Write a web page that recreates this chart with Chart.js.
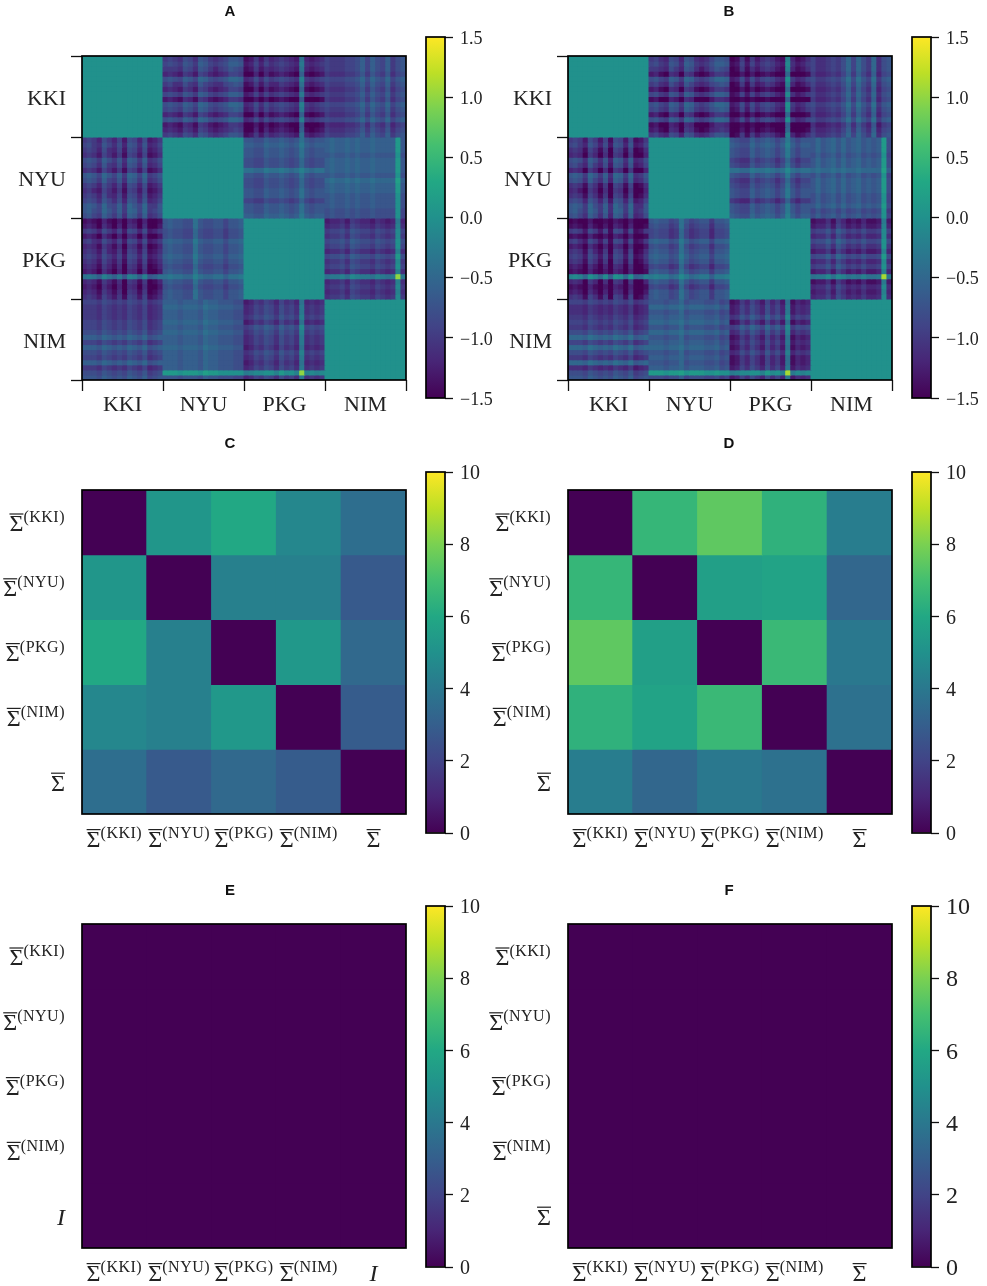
<!DOCTYPE html>
<html>
<head>
<meta charset="utf-8">
<title>Heatmaps</title>
<script src="https://cdn.jsdelivr.net/npm/chart.js@4/dist/chart.umd.js"></script>
<style>
html, body { margin: 0; padding: 0; background: #fff; }
#page { position: relative; width: 987px; height: 1286px; overflow: hidden; }
canvas { position: absolute; }
</style>
</head>
<body>
<div id="page"></div>
<script>
const sites = ['KKI', 'NYU', 'PKG', 'NIM'];
const supLabels = ['(KKI)', '(NYU)', '(PKG)', '(NIM)', ''];

// panels C-F
const matrixC = [
	[0, 5.2, 6.0, 4.6, 3.6],
	[5.2, 0, 4.3, 4.3, 2.8],
	[6.0, 4.3, 0, 5.3, 3.4],
	[4.6, 4.3, 5.3, 0, 2.9],
	[3.6, 2.8, 3.4, 2.9, 0]
];
const matrixD = [
	[0, 6.6, 7.5, 6.4, 4.2],
	[6.6, 0, 5.6, 5.8, 3.3],
	[7.5, 5.6, 0, 6.7, 4.0],
	[6.4, 5.8, 6.7, 0, 3.7],
	[4.2, 3.3, 4.0, 3.7, 0]
];
const matrixE = [
	[0, 0, 0, 0, 0],
	[0, 0, 0, 0, 0],
	[0, 0, 0, 0, 0],
	[0, 0, 0, 0, 0],
	[0, 0, 0, 0, 0]
];
const matrixF = [
	[0, 0, 0, 0, 0],
	[0, 0, 0, 0, 0],
	[0, 0, 0, 0, 0],
	[0, 0, 0, 0, 0],
	[0, 0, 0, 0, 0]
];

// panels A and B, tenths of a unit, coarse read of each off-diagonal block
const aKkiNyu = [
	[-10,-9,-10,-11,-8,-9,-11,-7,-8,-10,-11,-10,-9,-7,-7,-8],
	[-9,-8,-9,-10,-7,-8,-10,-6,-7,-9,-10,-9,-8,-6,-6,-7],
	[-10,-10,-10,-11,-8,-9,-11,-7,-8,-10,-12,-10,-9,-7,-8,-9],
	[-12,-11,-12,-13,-10,-11,-13,-9,-10,-12,-13,-12,-11,-9,-9,-10],
	[-8,-7,-8,-9,-6,-7,-9,-5,-6,-8,-9,-8,-7,-5,-5,-6],
	[-10,-9,-11,-11,-8,-10,-11,-7,-9,-10,-11,-11,-9,-8,-7,-8],
	[-12,-11,-12,-13,-10,-11,-13,-9,-10,-12,-13,-12,-11,-9,-9,-10],
	[-9,-8,-9,-10,-7,-8,-10,-6,-7,-9,-10,-9,-8,-6,-6,-7],
	[-13,-12,-13,-14,-11,-12,-14,-10,-11,-13,-14,-13,-12,-10,-10,-11],
	[-8,-7,-8,-9,-6,-7,-9,-5,-6,-8,-9,-8,-7,-5,-5,-6],
	[-9,-8,-9,-10,-7,-8,-10,-6,-7,-9,-10,-9,-8,-7,-6,-7],
	[-12,-11,-12,-13,-10,-11,-13,-9,-10,-12,-13,-12,-11,-9,-9,-10],
	[-8,-7,-8,-9,-6,-7,-9,-5,-6,-8,-9,-8,-7,-5,-5,-6],
	[-13,-12,-13,-14,-11,-12,-14,-10,-11,-13,-14,-13,-12,-10,-10,-11],
	[-12,-11,-12,-13,-10,-11,-13,-9,-10,-12,-13,-12,-11,-10,-9,-10],
	[-10,-9,-10,-11,-8,-9,-11,-7,-8,-10,-11,-10,-9,-7,-7,-8]
];
const aKkiPkg = [
	[-14,-13,-10,-13,-10,-12,-11,-10,-11,-12,-13,-4,-12,-13,-12,-11],
	[-13,-12,-9,-12,-9,-11,-10,-9,-10,-11,-12,-3,-11,-12,-11,-10],
	[-14,-13,-10,-13,-11,-12,-11,-10,-11,-12,-13,-4,-12,-13,-12,-11],
	[-15,-15,-12,-15,-12,-14,-13,-12,-13,-14,-15,-6,-14,-15,-14,-13],
	[-12,-11,-8,-11,-8,-10,-9,-8,-9,-10,-11,-2,-10,-11,-10,-9],
	[-14,-13,-10,-13,-10,-12,-12,-10,-11,-12,-13,-4,-12,-13,-12,-11],
	[-15,-15,-12,-15,-12,-14,-13,-12,-13,-14,-15,-6,-14,-15,-14,-13],
	[-13,-12,-9,-12,-9,-11,-10,-9,-10,-11,-12,-3,-11,-12,-11,-10],
	[-15,-15,-13,-15,-13,-15,-14,-13,-14,-15,-15,-7,-15,-15,-15,-14],
	[-12,-11,-8,-11,-8,-10,-9,-8,-9,-10,-11,-2,-10,-11,-10,-9],
	[-13,-12,-9,-12,-9,-11,-10,-9,-10,-11,-12,-3,-11,-12,-11,-10],
	[-15,-15,-12,-15,-12,-14,-13,-12,-13,-14,-15,-6,-14,-15,-14,-13],
	[-12,-11,-8,-11,-8,-10,-9,-8,-9,-10,-11,-2,-10,-11,-10,-9],
	[-15,-15,-13,-15,-13,-15,-14,-13,-14,-15,-15,-7,-15,-15,-15,-14],
	[-15,-15,-12,-15,-12,-14,-13,-12,-13,-14,-15,-6,-14,-15,-14,-13],
	[-14,-13,-10,-13,-10,-12,-11,-10,-11,-12,-13,-4,-12,-13,-12,-11]
];
const aKkiNim = [
	[-9,-10,-10,-10,-9,-9,-8,-6,-9,-6,-8,-9,-6,-10,-8,-7],
	[-9,-10,-10,-10,-9,-9,-8,-6,-9,-6,-8,-9,-6,-10,-8,-7],
	[-9,-10,-10,-10,-9,-9,-8,-6,-9,-6,-8,-9,-6,-10,-8,-7],
	[-10,-11,-11,-11,-10,-10,-9,-7,-10,-7,-9,-10,-7,-11,-9,-8],
	[-8,-9,-9,-9,-8,-8,-7,-5,-8,-5,-7,-8,-5,-9,-7,-6],
	[-9,-10,-10,-10,-9,-9,-8,-6,-9,-6,-8,-9,-6,-10,-8,-7],
	[-10,-11,-11,-11,-10,-10,-9,-7,-10,-7,-9,-10,-7,-11,-9,-8],
	[-9,-10,-10,-10,-9,-9,-8,-6,-9,-6,-8,-9,-6,-10,-8,-7],
	[-10,-11,-11,-11,-10,-10,-9,-7,-10,-7,-9,-10,-7,-11,-9,-8],
	[-8,-9,-9,-9,-8,-8,-7,-5,-8,-5,-7,-8,-5,-9,-7,-6],
	[-9,-10,-10,-10,-9,-9,-8,-6,-9,-6,-8,-9,-6,-10,-8,-7],
	[-10,-11,-11,-11,-10,-10,-9,-7,-10,-7,-9,-10,-7,-11,-9,-8],
	[-8,-9,-9,-9,-8,-8,-7,-5,-8,-5,-7,-8,-5,-9,-7,-6],
	[-11,-12,-12,-12,-11,-11,-10,-8,-11,-8,-10,-11,-8,-12,-10,-9],
	[-10,-11,-11,-11,-10,-10,-9,-7,-10,-7,-9,-10,-7,-11,-9,-8],
	[-9,-10,-10,-10,-9,-9,-8,-6,-9,-6,-8,-9,-6,-10,-8,-7]
];
const aNyuPkg = [
	[-7,-7,-8,-8,-6,-7,-7,-6,-7,-8,-7,-4,-7,-8,-7,-7],
	[-6,-6,-7,-7,-5,-6,-6,-5,-6,-7,-6,-3,-6,-7,-6,-6],
	[-7,-7,-8,-8,-6,-7,-7,-6,-7,-8,-7,-4,-7,-8,-7,-7],
	[-7,-7,-8,-8,-6,-7,-7,-6,-7,-8,-7,-4,-7,-8,-7,-7],
	[-8,-8,-9,-9,-7,-8,-8,-7,-8,-9,-8,-5,-8,-9,-8,-8],
	[-8,-8,-9,-9,-7,-8,-8,-7,-8,-9,-8,-5,-8,-9,-8,-8],
	[-4,-4,-5,-5,-3,-4,-4,-3,-4,-5,-4,-2,-4,-5,-4,-4],
	[-7,-7,-8,-8,-6,-7,-7,-6,-7,-8,-7,-4,-7,-8,-7,-7],
	[-8,-8,-9,-9,-7,-8,-8,-7,-8,-9,-8,-5,-8,-9,-8,-8],
	[-8,-8,-9,-9,-7,-8,-8,-7,-8,-9,-8,-5,-8,-9,-8,-8],
	[-7,-7,-8,-8,-6,-7,-7,-6,-7,-8,-7,-4,-7,-8,-7,-7],
	[-7,-7,-8,-8,-6,-7,-7,-6,-7,-8,-7,-4,-7,-8,-7,-7],
	[-9,-9,-10,-10,-8,-9,-9,-8,-9,-10,-9,-6,-9,-10,-9,-9],
	[-7,-7,-8,-8,-6,-7,-7,-6,-7,-8,-7,-4,-7,-8,-7,-7],
	[-7,-7,-8,-8,-6,-7,-7,-6,-7,-8,-7,-4,-7,-8,-7,-7],
	[-6,-6,-7,-7,-5,-6,-6,-5,-6,-7,-6,-3,-6,-7,-6,-6]
];
const aNyuNim = [
	[-6,-5,-6,-6,-5,-6,-5,-6,-6,-5,-6,-6,-6,-6,1,-7],
	[-6,-5,-6,-6,-5,-6,-5,-6,-6,-5,-6,-6,-6,-6,1,-7],
	[-6,-5,-6,-6,-5,-6,-5,-6,-6,-5,-6,-6,-6,-6,1,-7],
	[-7,-6,-7,-7,-6,-7,-6,-7,-7,-6,-7,-7,-7,-7,0,-8],
	[-6,-5,-6,-6,-5,-6,-5,-6,-6,-5,-6,-6,-6,-6,1,-7],
	[-6,-5,-6,-6,-5,-6,-5,-6,-6,-5,-6,-6,-6,-6,1,-7],
	[-6,-5,-6,-6,-5,-6,-5,-6,-6,-5,-6,-6,-6,-6,1,-7],
	[-7,-6,-7,-7,-6,-7,-6,-7,-7,-6,-7,-7,-7,-7,0,-8],
	[-5,-4,-5,-5,-4,-5,-4,-5,-5,-4,-5,-5,-5,-5,2,-6],
	[-6,-5,-6,-6,-5,-6,-5,-6,-6,-5,-6,-6,-6,-6,1,-7],
	[-6,-5,-6,-6,-5,-6,-5,-6,-6,-5,-6,-6,-6,-6,1,-7],
	[-7,-6,-7,-7,-6,-7,-6,-7,-7,-6,-7,-7,-7,-7,0,-8],
	[-7,-6,-7,-7,-6,-7,-6,-7,-7,-6,-7,-7,-7,-7,0,-8],
	[-7,-6,-7,-7,-6,-7,-6,-7,-7,-6,-7,-7,-7,-7,0,-8],
	[-8,-7,-8,-8,-7,-8,-7,-8,-8,-7,-8,-8,-8,-8,0,-9],
	[-8,-7,-8,-8,-7,-8,-7,-8,-8,-7,-8,-8,-8,-8,0,-9]
];
const aPkgNim = [
	[-13,-12,-12,-11,-13,-10,-11,-12,-12,-13,-11,-12,-13,-12,-3,-12],
	[-12,-11,-11,-10,-12,-9,-10,-11,-11,-12,-10,-11,-12,-11,-2,-11],
	[-10,-9,-9,-8,-10,-7,-8,-9,-9,-10,-8,-9,-10,-9,-1,-9],
	[-11,-10,-10,-9,-11,-8,-9,-10,-10,-11,-9,-10,-11,-10,-1,-10],
	[-9,-8,-8,-7,-9,-6,-7,-8,-8,-9,-7,-8,-9,-8,0,-8],
	[-10,-9,-9,-8,-10,-7,-8,-9,-9,-10,-8,-9,-10,-9,0,-9],
	[-12,-11,-11,-10,-12,-9,-10,-11,-11,-12,-10,-11,-12,-11,-2,-11],
	[-9,-8,-8,-7,-9,-6,-7,-8,-8,-9,-7,-8,-9,-8,1,-8],
	[-11,-10,-10,-9,-11,-8,-9,-10,-10,-11,-9,-10,-11,-10,-1,-10],
	[-10,-9,-9,-8,-10,-7,-8,-9,-9,-10,-8,-9,-10,-9,0,-9],
	[-12,-11,-11,-10,-12,-9,-10,-11,-11,-12,-10,-11,-12,-11,-2,-11],
	[-4,-3,-3,-2,-4,-1,-2,-3,-3,-4,-2,-3,-4,-3,10,-3],
	[-12,-11,-11,-10,-12,-9,-10,-11,-11,-12,-10,-11,-12,-11,-2,-11],
	[-11,-10,-10,-9,-11,-8,-9,-10,-10,-11,-9,-10,-11,-10,-1,-10],
	[-12,-11,-11,-10,-12,-9,-10,-11,-11,-12,-10,-11,-12,-11,-2,-11],
	[-11,-10,-10,-9,-11,-8,-9,-10,-10,-11,-9,-10,-11,-10,-1,-10]
];

const bKkiNyu = [
	[-10,-9,-11,-12,-8,-9,-12,-7,-8,-11,-12,-11,-9,-7,-7,-8],
	[-9,-8,-10,-11,-7,-8,-11,-6,-7,-10,-11,-10,-8,-6,-6,-7],
	[-10,-10,-11,-12,-8,-10,-12,-7,-8,-11,-13,-11,-9,-7,-8,-9],
	[-13,-12,-14,-15,-11,-12,-15,-10,-11,-14,-15,-14,-12,-10,-10,-11],
	[-8,-7,-9,-10,-6,-7,-10,-5,-6,-9,-10,-9,-7,-5,-5,-6],
	[-10,-9,-11,-12,-8,-10,-12,-7,-9,-11,-12,-11,-9,-8,-7,-8],
	[-13,-12,-14,-15,-11,-12,-15,-10,-11,-14,-15,-14,-12,-10,-10,-11],
	[-9,-8,-10,-11,-7,-8,-11,-6,-7,-10,-11,-10,-8,-6,-6,-7],
	[-14,-13,-15,-15,-12,-13,-15,-11,-12,-15,-15,-15,-13,-11,-11,-12],
	[-8,-7,-9,-10,-6,-7,-10,-5,-6,-9,-10,-9,-7,-5,-5,-6],
	[-9,-8,-10,-11,-7,-8,-11,-6,-7,-10,-11,-10,-8,-7,-6,-7],
	[-13,-12,-14,-15,-11,-12,-15,-10,-11,-14,-15,-14,-12,-10,-10,-11],
	[-8,-7,-9,-10,-6,-7,-10,-5,-6,-9,-10,-9,-7,-5,-5,-6],
	[-14,-13,-15,-15,-12,-13,-15,-11,-12,-15,-15,-15,-13,-11,-11,-12],
	[-13,-12,-14,-15,-11,-12,-15,-10,-11,-14,-15,-14,-12,-11,-10,-11],
	[-10,-9,-11,-12,-8,-9,-12,-7,-8,-11,-12,-11,-9,-7,-7,-8]
];
const bKkiPkg = [
	[-15,-14,-10,-14,-10,-13,-11,-10,-11,-13,-14,-2,-12,-14,-13,-11],
	[-14,-13,-9,-13,-9,-12,-10,-9,-10,-12,-13,-1,-11,-13,-12,-10],
	[-15,-14,-10,-14,-11,-13,-11,-10,-11,-13,-14,-2,-12,-14,-13,-11],
	[-15,-15,-13,-15,-13,-15,-14,-13,-14,-15,-15,-5,-15,-15,-15,-14],
	[-13,-12,-8,-12,-8,-11,-9,-8,-9,-11,-12,0,-10,-12,-11,-9],
	[-15,-14,-10,-14,-10,-13,-12,-10,-11,-13,-14,-2,-12,-14,-13,-11],
	[-15,-15,-13,-15,-13,-15,-14,-13,-14,-15,-15,-5,-15,-15,-15,-14],
	[-14,-13,-9,-13,-9,-12,-10,-9,-10,-12,-13,-1,-11,-13,-12,-10],
	[-15,-15,-14,-15,-14,-15,-15,-14,-15,-15,-15,-6,-15,-15,-15,-15],
	[-13,-12,-8,-12,-8,-11,-9,-8,-9,-11,-12,0,-10,-12,-11,-9],
	[-14,-13,-9,-13,-9,-12,-10,-9,-10,-12,-13,-1,-11,-13,-12,-10],
	[-15,-15,-13,-15,-13,-15,-14,-13,-14,-15,-15,-5,-15,-15,-15,-14],
	[-13,-12,-8,-12,-8,-11,-9,-8,-9,-11,-12,0,-10,-12,-11,-9],
	[-15,-15,-14,-15,-14,-15,-15,-14,-15,-15,-15,-6,-15,-15,-15,-15],
	[-15,-15,-13,-15,-13,-15,-14,-13,-14,-15,-15,-5,-15,-15,-15,-14],
	[-15,-14,-10,-14,-10,-13,-11,-10,-11,-13,-14,-2,-12,-14,-13,-11]
];
const bKkiNim = [
	[-9,-11,-11,-10,-9,-10,-8,-5,-9,-5,-8,-10,-5,-11,-8,-7],
	[-9,-11,-11,-10,-9,-10,-8,-5,-9,-5,-8,-10,-5,-11,-8,-7],
	[-9,-11,-11,-10,-9,-10,-8,-5,-9,-5,-8,-10,-5,-11,-8,-7],
	[-10,-12,-12,-11,-10,-11,-9,-6,-10,-6,-9,-11,-6,-12,-9,-8],
	[-8,-10,-10,-9,-8,-9,-7,-4,-8,-4,-7,-9,-4,-10,-7,-6],
	[-9,-11,-11,-10,-9,-10,-8,-5,-9,-5,-8,-10,-5,-11,-8,-7],
	[-10,-12,-12,-11,-10,-11,-9,-6,-10,-6,-9,-11,-6,-12,-9,-8],
	[-9,-11,-11,-10,-9,-10,-8,-5,-9,-5,-8,-10,-5,-11,-8,-7],
	[-10,-12,-12,-11,-10,-11,-9,-6,-10,-6,-9,-11,-6,-12,-9,-8],
	[-8,-10,-10,-9,-8,-9,-7,-4,-8,-4,-7,-9,-4,-10,-7,-6],
	[-9,-11,-11,-10,-9,-10,-8,-5,-9,-5,-8,-10,-5,-11,-8,-7],
	[-10,-12,-12,-11,-10,-11,-9,-6,-10,-6,-9,-11,-6,-12,-9,-8],
	[-8,-10,-10,-9,-8,-9,-7,-4,-8,-4,-7,-9,-4,-10,-7,-6],
	[-11,-13,-13,-12,-11,-12,-10,-7,-11,-7,-10,-12,-7,-13,-10,-9],
	[-10,-12,-12,-11,-10,-11,-9,-6,-10,-6,-9,-11,-6,-12,-9,-8],
	[-9,-11,-11,-10,-9,-10,-8,-5,-9,-5,-8,-10,-5,-11,-8,-7]
];
const bNyuPkg = [
	[-7,-8,-9,-9,-6,-8,-7,-6,-7,-9,-7,-3,-7,-9,-7,-7],
	[-6,-7,-8,-8,-5,-7,-6,-5,-6,-8,-6,-2,-6,-8,-6,-6],
	[-7,-8,-9,-9,-6,-8,-7,-6,-7,-9,-7,-3,-7,-9,-7,-7],
	[-7,-8,-9,-9,-6,-8,-7,-6,-7,-9,-7,-3,-7,-9,-7,-7],
	[-9,-10,-11,-11,-8,-10,-9,-8,-9,-11,-9,-5,-9,-11,-9,-9],
	[-8,-9,-10,-10,-7,-9,-8,-7,-8,-10,-8,-4,-8,-10,-8,-8],
	[-4,-4,-5,-5,-3,-4,-4,-3,-4,-5,-4,-1,-4,-5,-4,-4],
	[-7,-8,-9,-9,-6,-8,-7,-6,-7,-9,-7,-3,-7,-9,-7,-7],
	[-9,-10,-11,-11,-8,-10,-9,-8,-9,-11,-9,-5,-9,-11,-9,-9],
	[-8,-9,-10,-10,-7,-9,-8,-7,-8,-10,-8,-4,-8,-10,-8,-8],
	[-7,-8,-9,-9,-6,-8,-7,-6,-7,-9,-7,-3,-7,-9,-7,-7],
	[-7,-8,-9,-9,-6,-8,-7,-6,-7,-9,-7,-3,-7,-9,-7,-7],
	[-10,-11,-12,-12,-9,-11,-10,-9,-10,-12,-10,-6,-10,-12,-10,-10],
	[-7,-8,-9,-9,-6,-8,-7,-6,-7,-9,-7,-3,-7,-9,-7,-7],
	[-7,-8,-9,-9,-6,-8,-7,-6,-7,-9,-7,-3,-7,-9,-7,-7],
	[-6,-7,-8,-8,-5,-7,-6,-5,-6,-8,-6,-2,-6,-8,-6,-6]
];
const bNyuNim = [
	[-7,-5,-7,-6,-5,-7,-5,-7,-6,-5,-7,-6,-7,-6,1,-8],
	[-7,-5,-7,-6,-5,-7,-5,-7,-6,-5,-7,-6,-7,-6,1,-8],
	[-7,-5,-7,-6,-5,-7,-5,-7,-6,-5,-7,-6,-7,-6,1,-8],
	[-8,-6,-8,-7,-6,-8,-6,-8,-7,-6,-8,-7,-8,-7,0,-9],
	[-7,-5,-7,-6,-5,-7,-5,-7,-6,-5,-7,-6,-7,-6,1,-8],
	[-7,-5,-7,-6,-5,-7,-5,-7,-6,-5,-7,-6,-7,-6,1,-8],
	[-5,-4,-5,-5,-4,-5,-4,-5,-5,-4,-5,-5,-5,-5,2,-6],
	[-8,-6,-8,-7,-6,-8,-6,-8,-7,-6,-8,-7,-8,-7,0,-9],
	[-7,-5,-7,-6,-5,-7,-5,-7,-6,-5,-7,-6,-7,-6,1,-8],
	[-7,-5,-7,-6,-5,-7,-5,-7,-6,-5,-7,-6,-7,-6,1,-8],
	[-7,-5,-7,-6,-5,-7,-5,-7,-6,-5,-7,-6,-7,-6,1,-8],
	[-8,-6,-8,-7,-6,-8,-6,-8,-7,-6,-8,-7,-8,-7,0,-9],
	[-8,-6,-8,-7,-6,-8,-6,-8,-7,-6,-8,-7,-8,-7,0,-9],
	[-7,-5,-7,-6,-5,-7,-5,-7,-6,-5,-7,-6,-7,-6,1,-8],
	[-9,-7,-9,-8,-7,-9,-7,-9,-8,-7,-9,-8,-9,-8,0,-10],
	[-8,-6,-8,-7,-6,-8,-6,-8,-7,-6,-8,-7,-8,-7,0,-9]
];
const bPkgNim = [
	[-14,-13,-13,-11,-14,-10,-12,-14,-13,-14,-12,-14,-14,-13,-3,-13],
	[-13,-12,-12,-10,-13,-9,-11,-13,-12,-13,-11,-13,-13,-12,-2,-12],
	[-10,-9,-9,-7,-10,-6,-8,-10,-9,-10,-8,-10,-10,-9,-1,-9],
	[-12,-11,-11,-9,-12,-8,-10,-12,-11,-12,-10,-12,-12,-11,-1,-11],
	[-9,-8,-8,-6,-9,-5,-7,-9,-8,-9,-7,-9,-9,-8,0,-8],
	[-11,-10,-10,-8,-11,-7,-9,-11,-10,-11,-9,-11,-11,-10,0,-10],
	[-13,-12,-12,-10,-13,-9,-11,-13,-12,-13,-11,-13,-13,-12,-2,-12],
	[-9,-8,-8,-6,-9,-5,-7,-9,-8,-9,-7,-9,-9,-8,1,-8],
	[-12,-11,-11,-9,-12,-8,-10,-12,-11,-12,-10,-12,-12,-11,-1,-11],
	[-10,-9,-9,-7,-10,-6,-8,-10,-9,-10,-8,-10,-10,-9,0,-9],
	[-13,-12,-12,-10,-13,-9,-11,-13,-12,-13,-11,-13,-13,-12,-2,-12],
	[-4,-3,-3,-1,-4,-1,-2,-4,-3,-4,-2,-4,-4,-3,11,-3],
	[-14,-13,-13,-11,-14,-10,-12,-14,-13,-14,-12,-14,-14,-13,-3,-13],
	[-12,-11,-11,-9,-12,-8,-10,-12,-11,-12,-10,-12,-12,-11,-1,-11],
	[-13,-12,-12,-10,-13,-9,-11,-13,-12,-13,-11,-13,-13,-12,-2,-12],
	[-12,-11,-11,-9,-12,-8,-10,-12,-11,-12,-10,-12,-12,-11,-1,-11]
];

const viridis = ['#440154', '#482576', '#414487', '#355f8d', '#2a788e', '#21918c', '#22a884', '#44bf70', '#7ad151', '#bddf26', '#fde725'];

const toRgb = hex => [1, 3, 5].map(i => parseInt(hex.substr(i, 2), 16));

const colorFor = (value, min, max) => {
	const t = Math.min(1, Math.max(0, (value - min) / (max - min))) * (viridis.length - 1),
		i = Math.min(viridis.length - 2, Math.floor(t)),
		a = toRgb(viridis[i]),
		b = toRgb(viridis[i + 1]);
	return 'rgb(' + a.map((c, k) => Math.round(c + (b[k] - c) * (t - i))).join(',') + ')';
};

// upper blocks as read, lower blocks are the same cells mirrored, diagonal blocks sit at 0
const siteMatrix = blocks => {
	const rows = [], size = 16;
	for (let a = 0; a < 4; a++) {
		for (let i = 0; i < size; i++) {
			const row = [];
			for (let b = 0; b < 4; b++) {
				for (let j = 0; j < size; j++) {
					if (a == b) row.push(0);
					else if (a < b) row.push(blocks[a + '' + b][i][j] / 10);
					else row.push(blocks[b + '' + a][j][i] / 10);
				}
			}
			rows.push(row);
		}
	}
	return rows;
};

const frame = {
	id: 'frame',
	afterDraw(chart) {
		const { ctx, chartArea: c } = chart;
		ctx.save();
		ctx.strokeStyle = '#000';
		ctx.lineWidth = 1.7;
		ctx.strokeRect(c.left, c.top, c.right - c.left, c.bottom - c.top);
		ctx.restore();
	}
};

// sigma bar with superscript, or the italic I, chart.js ticks are plain strings
const mathLabel = (ctx, base, sup, right, middle, center) => {
	const italic = base == 'I',
		baseFont = (italic ? 'italic ' : '') + '24px "Liberation Serif"',
		supFont = '16px "Liberation Serif"';
	ctx.letterSpacing = '0.5px';
	ctx.font = supFont;
	const supW = sup ? ctx.measureText(sup).width : 0;
	ctx.letterSpacing = '0px';
	ctx.font = baseFont;
	const baseW = ctx.measureText(base).width,
		x = center ? right - (baseW + supW) / 2 : right - baseW - supW;
	ctx.fillStyle = '#222';
	ctx.textBaseline = 'alphabetic';
	ctx.textAlign = 'left';
	ctx.fillText(base, x, middle + 9);
	if (!italic) {
		ctx.fillRect(x, middle - 9, baseW, 1.2);
	}
	if (sup) {
		ctx.letterSpacing = '0.5px';
		ctx.font = supFont;
		ctx.fillText(sup, x + baseW, middle);
		ctx.letterSpacing = '0px';
	}
};

const mathTicks = (lastBase) => ({
	id: 'mathTicks',
	afterDraw(chart) {
		const { ctx, scales, chartArea: c } = chart;
		ctx.save();
		supLabels.forEach((sup, i) => {
			const base = sup ? 'Σ' : lastBase;
			mathLabel(ctx, base, sup, c.left - 17, scales.blockY.getPixelForTick(i), false);
			mathLabel(ctx, base, sup, scales.blockX.getPixelForTick(i), c.bottom + 24, true);
		});
		ctx.restore();
	}
});

const addCanvas = (left, top, width, height) => {
	const canvas = document.createElement('canvas');
	canvas.width = width;
	canvas.height = height;
	canvas.style.left = left + 'px';
	canvas.style.top = top + 'px';
	document.getElementById('page').appendChild(canvas);
	return canvas;
};

const drawHeatmap = (o) => {
	const n = o.matrix.length,
		axisLeft = 82,
		axisBottom = 45,
		plotSize = 324,
		top = o.titleY - 13,
		gap = o.plotTop - top,
		width = Math.round((o.titleX - o.left) * 2),
		cells = o.matrix[0].map((v, j) => String(j)),
		isSites = !!o.siteLabels;

	const blockAxis = (axis, position, labels) => ({
		axis,
		type: 'category',
		position,
		labels,
		offset: true,
		border: { display: false },
		grid: {
			offset: true,
			drawOnChartArea: false,
			drawTicks: isSites,
			tickLength: 11,
			tickColor: '#111',
			tickWidth: 1.3
		},
		ticks: {
			display: isSites,
			autoSkip: false,
			maxRotation: 0,
			padding: axis == 'x' ? 1 : 5,
			labelOffset: axis == 'y' ? 3 : 0,
			color: '#222',
			font: { family: 'Liberation Serif', size: 22 }
		},
		afterFit(scale) {
			if (axis == 'x') scale.height = axisBottom;
			else scale.width = axisLeft;
		}
	});

	const labels = isSites ? o.siteLabels : supLabels;

	new Chart(addCanvas(o.left, top, width, gap + plotSize + axisBottom), {
		type: 'bar',
		data: {
			labels: cells,
			datasets: o.matrix.map((row, r) => ({
				data: row.map(() => [r, r + 1]),
				backgroundColor: row.map(v => colorFor(v, o.min, o.max)),
				borderWidth: 0,
				inflateAmount: 0.5,
				barPercentage: 1,
				categoryPercentage: 1,
				grouped: false
			}))
		},
		options: {
			responsive: false,
			animation: false,
			events: [],
			plugins: {
				legend: { display: false },
				tooltip: { enabled: false },
				title: {
					display: true,
					text: o.title,
					color: '#111',
					font: { family: 'Liberation Sans', weight: 'bold', size: 15 },
					padding: { top: 4, bottom: gap - 22 }
				}
			},
			scales: {
				x: { display: false, offset: true },
				y: { display: false, min: 0, max: n, reverse: true },
				blockX: blockAxis('x', 'bottom', labels),
				blockY: blockAxis('y', 'left', labels),
				// empty axis on the right, keeps the title centred on the whole canvas
				spacer: {
					axis: 'y',
					position: 'right',
					border: { display: false },
					grid: { display: false },
					ticks: { display: false },
					afterFit(scale) { scale.width = width - axisLeft - plotSize; }
				}
			}
		},
		plugins: isSites ? [frame] : [frame, mathTicks(o.lastBase)]
	});
};

const drawColorbar = (o) => {
	const width = 82,
		pad = 16;

	new Chart(addCanvas(o.left + 420, o.barTop - pad, width, 361 + pad * 2), {
		type: 'bar',
		data: {
			labels: [''],
			datasets: [{
				data: [[o.min, o.max]],
				borderWidth: 0,
				inflateAmount: 0,
				barPercentage: 1,
				categoryPercentage: 1,
				backgroundColor(ctx) {
					const area = ctx.chart.chartArea;
					if (!area) return viridis[0];
					const g = ctx.chart.ctx.createLinearGradient(0, area.bottom, 0, area.top);
					viridis.forEach((c, i) => g.addColorStop(i / (viridis.length - 1), c));
					return g;
				}
			}]
		},
		options: {
			responsive: false,
			animation: false,
			events: [],
			layout: { padding: { left: 6, top: pad, bottom: pad } },
			plugins: { legend: { display: false }, tooltip: { enabled: false } },
			scales: {
				x: { display: false },
				y: {
					position: 'right',
					min: o.min,
					max: o.max,
					border: { display: false },
					grid: { drawOnChartArea: false, tickLength: 8, tickColor: '#111', tickWidth: 1.3 },
					ticks: {
						stepSize: o.step,
						autoSkip: false,
						padding: 7,
						labelOffset: 2,
						color: '#222',
						font: { family: 'Liberation Serif', size: o.fontSize },
						callback: v => (o.step < 1 ? v.toFixed(1) : String(v)).replace('-', '\u2212')
					},
					afterFit(scale) {
						scale.width = 57;
						scale.paddingTop = 0;
						scale.paddingBottom = 0;
					}
				}
			}
		},
		plugins: [frame]
	});
};

const blocksA = { '01': aKkiNyu, '02': aKkiPkg, '03': aKkiNim, '12': aNyuPkg, '13': aNyuNim, '23': aPkgNim };
const blocksB = { '01': bKkiNyu, '02': bKkiPkg, '03': bKkiNim, '12': bNyuPkg, '13': bNyuNim, '23': bPkgNim };

const panels = [
	{ title: 'A', left: 0, titleX: 230, titleY: 12, plotTop: 56, barTop: 37, matrix: siteMatrix(blocksA), siteLabels: sites, min: -1.5, max: 1.5, step: 0.5, fontSize: 18 },
	{ title: 'B', left: 486, titleX: 729, titleY: 12, plotTop: 56, barTop: 37, matrix: siteMatrix(blocksB), siteLabels: sites, min: -1.5, max: 1.5, step: 0.5, fontSize: 18 },
	{ title: 'C', left: 0, titleX: 230, titleY: 444, plotTop: 490, barTop: 472, matrix: matrixC, lastBase: 'Σ', min: 0, max: 10, step: 2, fontSize: 20 },
	{ title: 'D', left: 486, titleX: 729, titleY: 444, plotTop: 490, barTop: 472, matrix: matrixD, lastBase: 'Σ', min: 0, max: 10, step: 2, fontSize: 20 },
	{ title: 'E', left: 0, titleX: 230, titleY: 891, plotTop: 924, barTop: 906, matrix: matrixE, lastBase: 'I', min: 0, max: 10, step: 2, fontSize: 20 },
	{ title: 'F', left: 486, titleX: 729, titleY: 891, plotTop: 924, barTop: 906, matrix: matrixF, lastBase: 'Σ', min: 0, max: 10, step: 2, fontSize: 24 }
];

panels.forEach(p => {
	drawHeatmap(p);
	drawColorbar(p);
});
</script>
</body>
</html>
